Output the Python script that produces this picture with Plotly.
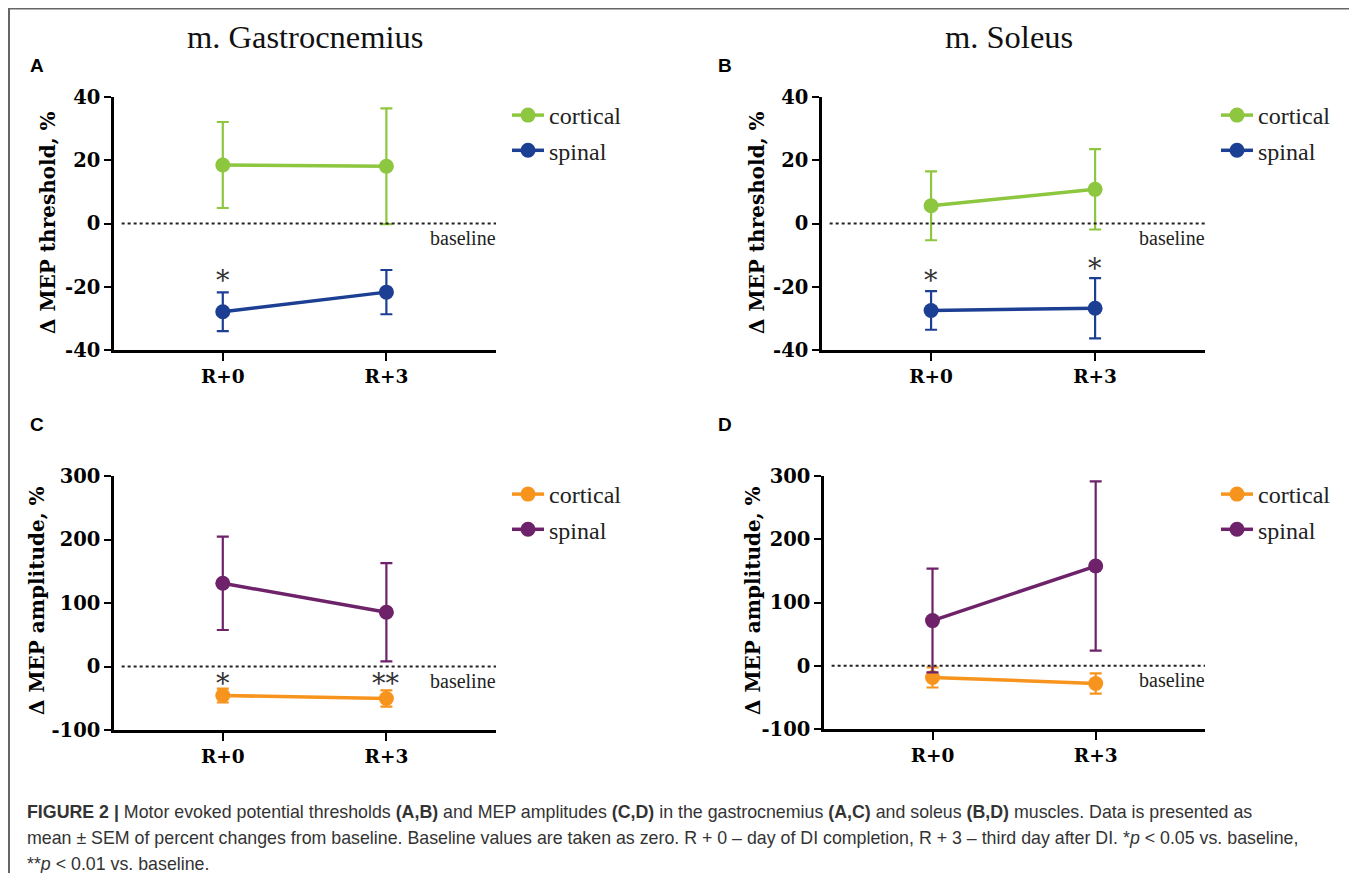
import plotly.graph_objects as go

# The page body has an 8px margin, so the figure is sized to fit the window
# and page coordinates are converted with that offset.
PAGE_OFF = 8
FW, FH = 1349, 865

days = ["R+0", "R+3"]

# Panel A: gastrocnemius MEP threshold (% change)
a_cortical = [18.5, 18.1]
a_cortical_sem = [13.6, 18.3]
a_spinal = [-27.9, -21.7]
a_spinal_sem = [6.1, 7.0]

# Panel B: soleus MEP threshold
b_cortical = [5.6, 10.8]
b_cortical_sem = [10.9, 12.7]
b_spinal = [-27.5, -26.8]
b_spinal_sem = [6.1, 9.5]

# Panel C: gastrocnemius MEP amplitude
c_cortical = [-45.7, -50.4]
c_cortical_sem = [11.0, 12.8]
c_spinal = [131.0, 85.5]
c_spinal_sem = [73.5, 77.4]

# Panel D: soleus MEP amplitude
d_cortical = [-18.5, -28.0]
d_cortical_sem = [15.9, 16.0]
d_spinal = [71.4, 157.6]
d_spinal_sem = [82.0, 133.8]

thr_ticks = [-40, -20, 0, 20, 40]
amp_ticks = [-100, 0, 100, 200, 300]

GREEN = "#8dc63f"
BLUE = "#1c3f94"
ORANGE = "#f7941d"
PURPLE = "#6d2269"

SERIF = "Liberation Serif"
BSERIF = "DejaVu Serif"


def px(x):
    return (x - PAGE_OFF) / FW


def py(y):
    return 1 - (y - PAGE_OFF) / FH


fig = go.Figure()

panels = [
    dict(xa="x", ya="y", lg="legend", xd=(114, 496), yd=(97, 350), yr=(-40, 40), tv=thr_ticks,
         lpos=(507, 93),
         series=[("cortical", a_cortical, a_cortical_sem, GREEN), ("spinal", a_spinal, a_spinal_sem, BLUE)]),
    dict(xa="x2", ya="y2", lg="legend2", xd=(822, 1205), yd=(97, 350), yr=(-40, 40), tv=thr_ticks,
         lpos=(1216, 93),
         series=[("cortical", b_cortical, b_cortical_sem, GREEN), ("spinal", b_spinal, b_spinal_sem, BLUE)]),
    dict(xa="x3", ya="y3", lg="legend3", xd=(114, 496), yd=(476, 730), yr=(-100, 300), tv=amp_ticks,
         lpos=(507, 472),
         series=[("cortical", c_cortical, c_cortical_sem, ORANGE), ("spinal", c_spinal, c_spinal_sem, PURPLE)]),
    dict(xa="x4", ya="y4", lg="legend4", xd=(824, 1205), yd=(476, 729), yr=(-100, 300), tv=amp_ticks,
         lpos=(1216, 472),
         series=[("cortical", d_cortical, d_cortical_sem, ORANGE), ("spinal", d_spinal, d_spinal_sem, PURPLE)]),
]

layout_axes = {}
legends = {}

for p in panels:
    xa, ya, lg = p["xa"], p["ya"], p["lg"]
    for j, (name, vals, sem, col) in enumerate(p["series"]):
        fig.add_trace(go.Scatter(
            x=[0, 1], y=vals, name=name, mode="lines+markers",
            xaxis=xa, yaxis=ya, legend=lg, legendgroup=f"{lg}-{j}",
            line=dict(color=col, width=3.5),
            marker=dict(color=col, size=15),
            error_y=dict(type="data", array=sem, visible=True, color=col,
                         thickness=2.2, width=6),
        ))
    xname = "xaxis" + xa[1:]
    yname = "yaxis" + ya[1:]
    layout_axes[xname] = dict(
        domain=[px(p["xd"][0]), px(p["xd"][1])], anchor=ya, range=[-0.665, 1.67],
        tickmode="array", tickvals=[0, 1], ticktext=days, automargin=False,
        showline=True, linecolor="black", linewidth=2.5,
        ticks="outside", ticklen=8, tickwidth=2.2, tickcolor="black",
        showgrid=False, zeroline=False,
        tickfont=dict(family=BSERIF, size=18.5, color="black", weight="bold"),
    )
    layout_axes[yname] = dict(
        domain=[py(p["yd"][1]), py(p["yd"][0])], anchor=xa, range=list(p["yr"]),
        tickmode="array", tickvals=p["tv"], ticktext=[str(v) for v in p["tv"]], automargin=False,
        showline=True, linecolor="black", linewidth=2.5,
        ticks="outside", ticklen=7, tickwidth=2.2, tickcolor="black",
        showgrid=False, zeroline=False,
        tickfont=dict(family=BSERIF, size=19.5, color="black", weight="bold"),
    )
    lx, ly = p["lpos"]
    legends[lg] = dict(
        x=px(lx), y=py(ly), xanchor="left", yanchor="top",
        font=dict(family=SERIF, size=24, color="#222"),
        bgcolor="rgba(0,0,0,0)", traceorder="grouped", tracegroupgap=1,
        itemwidth=32,
    )
    fig.add_shape(type="line", xref=f"{xa} domain", yref=ya,
                  x0=0.02, x1=1.0, y0=0, y1=0,
                  line=dict(color="#222", width=2, dash="dot"))
    fig.add_annotation(text="baseline", xref=f"{xa} domain", yref=ya,
                       x=1.005, y=0, xanchor="right", yanchor="top", yshift=-1,
                       showarrow=False, font=dict(family=SERIF, size=20, color="#222"))

fig.update_layout(**layout_axes, **legends)

ytitles = [("Δ MEP threshold, %", 48, 223), ("Δ MEP threshold, %", 757, 223),
           ("Δ MEP amplitude, %", 37, 601), ("Δ MEP amplitude, %", 753, 601)]
for t, x, y in ytitles:
    fig.add_annotation(text=t, xref="paper", yref="paper", x=px(x), y=py(y),
                       xanchor="center", yanchor="middle", textangle=-90, showarrow=False,
                       font=dict(family=BSERIF, size=20, color="black", weight="bold"))

for t, x in [("m. Gastrocnemius", 305), ("m. Soleus", 1009)]:
    fig.add_annotation(text=t, xref="paper", yref="paper", x=px(x), y=py(37),
                       xanchor="center", yanchor="middle", showarrow=False,
                       font=dict(family=SERIF, size=32.5, color="#111"))

for t, x, y in [("A", 37, 65), ("B", 725, 65), ("C", 37, 424), ("D", 725, 424)]:
    fig.add_annotation(text=f"<b>{t}</b>", xref="paper", yref="paper", x=px(x), y=py(y),
                       xanchor="center", yanchor="middle", showarrow=False,
                       font=dict(family="Liberation Sans", size=19, color="black"))

sig = [("x", "y", 0, -16.9, "*"), ("x2", "y2", 0, -16.9, "*"), ("x2", "y2", 1, -13.1, "*"),
       ("x3", "y3", 0, -20.5, "*"), ("x3", "y3", 1, -20.5, "**")]
for xa, ya, xv, yv, t in sig:
    fig.add_annotation(text=t, xref=xa, yref=ya, x=xv, y=yv, showarrow=False,
                       xanchor="center", yanchor="middle", yshift=-4,
                       font=dict(family=BSERIF, size=27, color="#333"))

cap = [
    "<b>FIGURE 2 |</b> Motor evoked potential thresholds <b>(A,B)</b> and MEP amplitudes <b>(C,D)</b> in the gastrocnemius <b>(A,C)</b> and soleus <b>(B,D)</b> muscles. Data is presented as",
    "mean ± SEM of percent changes from baseline. Baseline values are taken as zero. R + 0 – day of DI completion, R + 3 – third day after DI. *<i>p</i> &lt; 0.05 vs. baseline,",
    "**<i>p</i> &lt; 0.01 vs. baseline.",
]
for k, line in enumerate(cap):
    fig.add_annotation(text=line, xref="paper", yref="paper", x=px(25), y=py(812 + 26 * k),
                       xanchor="left", yanchor="middle", showarrow=False,
                       font=dict(family="Liberation Sans", size=17.8, color="#333"))

fig.add_shape(type="rect", xref="paper", yref="paper", x0=px(9), x1=px(1354), y0=-0.05, y1=py(8.5),
              line=dict(color="#666", width=2), fillcolor="rgba(0,0,0,0)")

fig.update_layout(width=FW, height=FH, margin=dict(l=0, r=0, t=0, b=0, autoexpand=False),
                  plot_bgcolor="white", paper_bgcolor="white", showlegend=True)

fig.write_html("out.html")
